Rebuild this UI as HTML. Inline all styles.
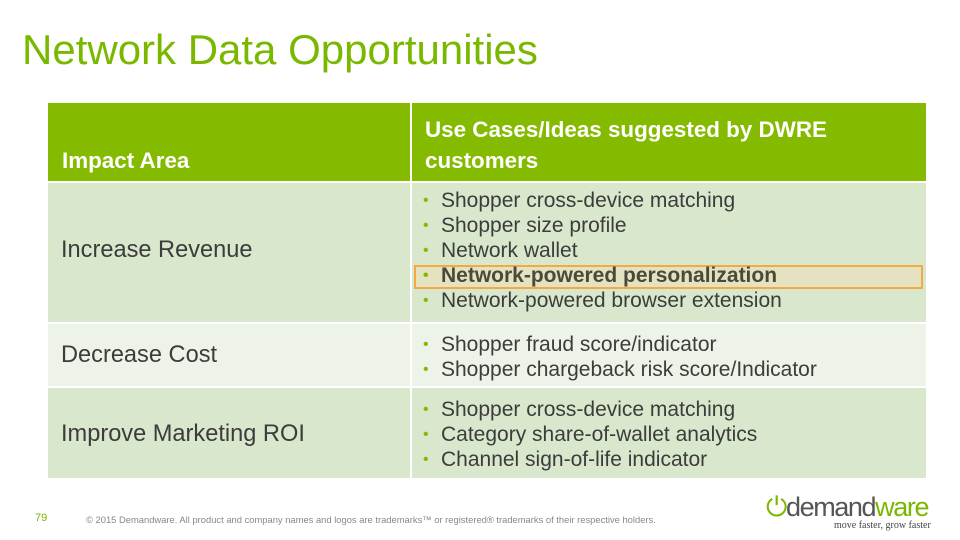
<!DOCTYPE html>
<html><head><meta charset="utf-8"><style>
body{margin:0;width:960px;height:540px;background:#fff;position:relative;overflow:hidden;font-family:"Liberation Sans",Arial,sans-serif;}
.a{position:absolute;}
.title{left:22px;top:25px;font-size:42px;color:#7ab800;line-height:50px;}
.cell{position:absolute;box-sizing:border-box;}
.hdr{background:#84bb00;color:#fff;font-weight:bold;font-size:22.4px;line-height:31px;}
ul{margin:0;padding:0;list-style:none;}
li{font-size:21px;line-height:25px;color:#3c3c3c;position:relative;padding-left:20px;}
li:before{content:"•";color:#84bb00;position:absolute;left:2px;font-size:16px;}
.lab{font-size:23.6px;color:#3c3c3c;}
</style></head><body>
<div class="a title">Network Data Opportunities</div>

<div class="cell hdr" style="left:48px;top:103px;width:362px;height:78px;padding:42px 0 0 14px;">Impact Area</div>
<div class="cell hdr" style="left:412px;top:103px;width:514px;height:78px;padding:11px 40px 0 13px;">Use Cases/Ideas suggested by DWRE customers</div>

<div class="cell" style="left:48px;top:183px;width:362px;height:139px;background:#d9e7cc;"></div>
<div class="cell" style="left:412px;top:183px;width:514px;height:139px;background:#d9e7cc;"></div>
<div class="cell" style="left:48px;top:324px;width:362px;height:62px;background:#edf3e8;"></div>
<div class="cell" style="left:412px;top:324px;width:514px;height:62px;background:#edf3e8;"></div>
<div class="cell" style="left:48px;top:388px;width:362px;height:90px;background:#d9e7cc;"></div>
<div class="cell" style="left:412px;top:388px;width:514px;height:90px;background:#d9e7cc;"></div>

<div class="a" style="left:414px;top:265px;width:509px;height:24px;border:2px solid #f4a943;background:#e4e2c0;box-sizing:border-box;"></div>

<div class="a lab" style="left:61px;top:237px;">Increase Revenue</div>
<div class="a lab" style="left:61px;top:342px;">Decrease Cost</div>
<div class="a lab" style="left:61px;top:421px;">Improve Marketing ROI</div>

<ul class="a" style="left:421px;top:188px;">
<li>Shopper cross-device matching</li>
<li>Shopper size profile</li>
<li>Network wallet</li>
<li style="font-weight:bold;color:#4a4a3a;">Network-powered personalization</li>
<li>Network-powered browser extension</li>
</ul>
<ul class="a" style="left:421px;top:332px;">
<li>Shopper fraud score/indicator</li>
<li>Shopper chargeback risk score/Indicator</li>
</ul>
<ul class="a" style="left:421px;top:397px;">
<li>Shopper cross-device matching</li>
<li>Category share-of-wallet analytics</li>
<li>Channel sign-of-life indicator</li>
</ul>

<div class="a" style="left:35px;top:512px;font-size:11px;color:#7ab800;">79</div>
<div class="a" style="left:86px;top:514px;font-size:9.4px;color:#888;">© 2015 Demandware. All product and company names and logos are trademarks™ or registered® trademarks of their respective holders.</div>
<div class="a" style="left:766px;top:492px;font-size:27px;color:#555;letter-spacing:-1.4px;line-height:30px;"><span style="color:#7ab800;">⏻</span>demand<span style="color:#7ab800;">ware</span></div>
<div class="a" style="left:834px;top:520px;font-size:10px;color:#444;font-family:'Liberation Serif',serif;">move faster, grow faster</div>
</body></html>
